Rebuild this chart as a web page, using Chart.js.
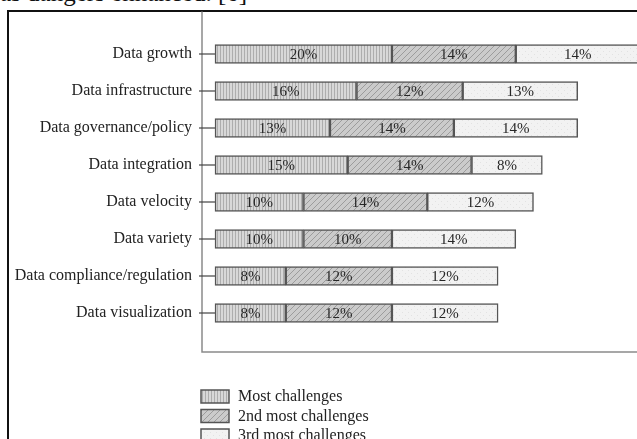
<!DOCTYPE html>
<html>
<head>
<meta charset="utf-8">
<script src="https://cdn.jsdelivr.net/npm/chart.js@4.4.1/dist/chart.umd.min.js"></script>
<style>
  html, body { margin: 0; padding: 0; background: #fff; }
  body { width: 637px; height: 439px; position: relative; overflow: hidden; }
  #caption { position: absolute; left: 0; top: -20px; font-family: "Liberation Serif", serif; font-size: 25px; line-height: 25px; color: #111; white-space: nowrap; }
  #frame { position: absolute; left: 7px; top: 10px; width: 700px; height: 500px; border: 2px solid #111; box-sizing: border-box; }
  #wrap { position: absolute; left: 0; top: 0; width: 637px; height: 439px; }
</style>
</head>
<body>
<div id="caption">as dangers enhanced. [6]</div>
<div id="frame"></div>
<div id="wrap"><canvas id="challengeChart" width="637" height="439"></canvas></div>
<script>
const categories = ['Data growth', 'Data infrastructure', 'Data governance/policy', 'Data integration',
  'Data velocity', 'Data variety', 'Data compliance/regulation', 'Data visualization'];
const seriesNames = ['Most challenges', '2nd most challenges', '3rd most challenges'];
const mostValues = [20, 16, 13, 15, 10, 10, 8, 8];
const secondValues = [14, 12, 14, 14, 14, 10, 12, 12];
const thirdValues = [14, 13, 14, 8, 12, 14, 12, 12];

const serif = '"Liberation Serif", "Times New Roman", serif';

// small canvas patterns to imitate the printed hatching
function makePattern(base, line, kind) {
  const c = document.createElement('canvas');
  c.width = 6; c.height = 6;
  const g = c.getContext('2d');
  g.fillStyle = base;
  g.fillRect(0, 0, 6, 6);
  g.strokeStyle = line;
  g.lineWidth = 1;
  g.beginPath();
  if (kind === 'vert') {
    g.moveTo(1.5, 0); g.lineTo(1.5, 6);
    g.moveTo(4.5, 0); g.lineTo(4.5, 6);
  } else if (kind === 'diag') {
    g.moveTo(0, 6); g.lineTo(6, 0);
    g.moveTo(-1, 1); g.lineTo(1, -1);
    g.moveTo(5, 7); g.lineTo(7, 5);
  }
  g.stroke();
  if (kind === 'dots') {
    g.fillStyle = line;
    g.fillRect(0, 0, 1, 1);
    g.fillRect(3, 3, 1, 1);
  }
  return g.createPattern(c, 'repeat');
}

const fills = [
  makePattern('#d8d8d8', '#adadad', 'vert'),
  makePattern('#cbcbcb', '#9c9c9c', 'diag'),
  makePattern('#f2f2f2', '#e2e2e2', 'dots')
];

// axis line, bottom line and the small ticks joining axis to bars
const framePlugin = {
  id: 'framePlugin',
  beforeDatasetsDraw(chart) {
    const { ctx, chartArea, scales } = chart;
    const left = chartArea.left;
    ctx.save();
    ctx.strokeStyle = '#8a8a8a';
    ctx.lineWidth = 1.5;
    ctx.beginPath();
    ctx.moveTo(left, chartArea.top - 24);
    ctx.lineTo(left, chartArea.bottom + 20.5);
    ctx.lineTo(chart.width, chartArea.bottom + 20.5);
    ctx.stroke();
    ctx.strokeStyle = '#444';
    ctx.lineWidth = 1.2;
    const x0 = scales.x.getPixelForValue(0);
    categories.forEach((c, i) => {
      const y = scales.y.getPixelForValue(i);
      ctx.beginPath();
      ctx.moveTo(left - 3, y);
      ctx.lineTo(x0, y);
      ctx.stroke();
    });
    ctx.restore();
  }
};

// percentage labels inside each segment
const valueLabels = {
  id: 'valueLabels',
  afterDatasetsDraw(chart) {
    const { ctx } = chart;
    ctx.save();
    ctx.font = '15px ' + serif;
    ctx.fillStyle = '#262626';
    ctx.textAlign = 'center';
    ctx.textBaseline = 'middle';
    chart.data.datasets.forEach((ds, di) => {
      chart.getDatasetMeta(di).data.forEach((bar, i) => {
        const cx = (bar.x + bar.base) / 2;
        if (cx < chart.width - 10) ctx.fillText(ds.data[i] + '%', cx, bar.y + 1);
      });
    });
    ctx.restore();
  }
};

// stacked legend under the plot
const boxLegend = {
  id: 'boxLegend',
  afterDraw(chart) {
    const { ctx, chartArea } = chart;
    ctx.save();
    ctx.font = '16px ' + serif;
    ctx.textBaseline = 'middle';
    chart.data.datasets.forEach((ds, i) => {
      const x = chartArea.left - 1;
      const y = chartArea.bottom + 58.5 + i * 19.5;
      ctx.fillStyle = ds.backgroundColor;
      ctx.fillRect(x, y, 28, 13);
      ctx.strokeStyle = '#555';
      ctx.lineWidth = 1.5;
      ctx.strokeRect(x, y, 28, 13);
      ctx.fillStyle = '#222';
      ctx.fillText(ds.label, x + 37, y + 7);
    });
    ctx.restore();
  }
};

const seriesValues = [mostValues, secondValues, thirdValues];

new Chart(document.getElementById('challengeChart'), {
  type: 'bar',
  data: {
    labels: categories,
    datasets: seriesNames.map((name, i) => ({
      label: name,
      data: seriesValues[i],
      backgroundColor: fills[i],
      borderColor: '#555',
      borderWidth: 1.5,
      borderSkipped: false,
      barThickness: 19
    }))
  },
  options: {
    indexAxis: 'y',
    responsive: false,
    animation: false,
    layout: { padding: { top: 35.5, bottom: 107.5, left: 0, right: 0 } },
    plugins: {
      legend: { display: false },
      tooltip: { enabled: false }
    },
    scales: {
      x: {
        stacked: true,
        display: false,
        min: -1.47,
        max: 47.7
      },
      y: {
        stacked: true,
        grid: { display: false, drawTicks: false },
        border: { display: false },
        ticks: { font: { family: serif, size: 16 }, color: '#222', padding: 10 },
        afterFit(scale) { scale.width = 202; }
      }
    }
  },
  plugins: [framePlugin, valueLabels, boxLegend]
});
</script>
</body>
</html>
